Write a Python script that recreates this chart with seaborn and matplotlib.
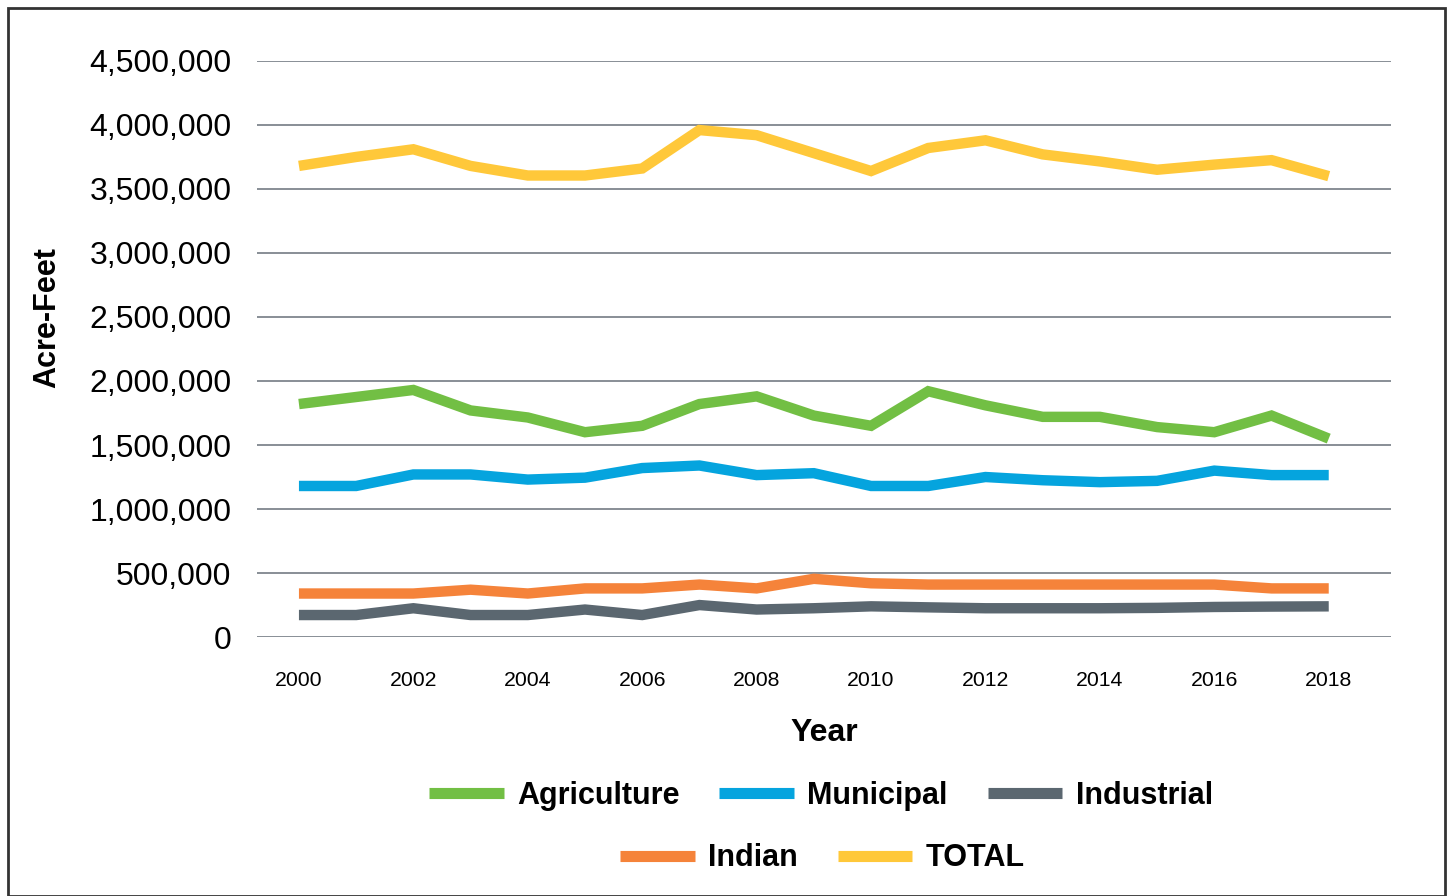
import numpy as np
import pandas as pd
import seaborn as sns
import matplotlib.pyplot as plt
from matplotlib.patches import Rectangle
from matplotlib.ticker import FuncFormatter

# Data (acre-feet)
years = list(range(2000, 2019))
agriculture = [1820000, 1875000, 1930000, 1770000, 1715000, 1600000, 1650000, 1820000, 1880000, 1730000,
               1650000, 1920000, 1810000, 1720000, 1720000, 1640000, 1600000, 1730000, 1550000]
municipal = [1180000, 1180000, 1270000, 1270000, 1230000, 1245000, 1320000, 1340000, 1265000, 1280000,
             1180000, 1180000, 1250000, 1225000, 1210000, 1220000, 1300000, 1265000, 1265000]
industrial = [172000, 172000, 225000, 172000, 172000, 215000, 172000, 250000, 215000, 225000,
              240000, 232000, 225000, 225000, 225000, 228000, 235000, 238000, 240000]
indian = [340000, 340000, 340000, 370000, 340000, 380000, 380000, 410000, 380000, 455000,
          420000, 410000, 410000, 410000, 410000, 410000, 410000, 380000, 380000]
total = [3680000, 3750000, 3810000, 3680000, 3605000, 3605000, 3660000, 3960000, 3920000, 3780000,
         3640000, 3820000, 3880000, 3770000, 3715000, 3650000, 3690000, 3725000, 3600000]

series_names = ['Agriculture', 'Municipal', 'Industrial', 'Indian', 'TOTAL']
colors = ['#72BF44', '#05A4DE', '#5B6770', '#F5833A', '#FFC83A']

df = pd.DataFrame({'Year': years, 'Agriculture': agriculture, 'Municipal': municipal,
                   'Industrial': industrial, 'Indian': indian, 'TOTAL': total})
long_df = df.melt(id_vars='Year', var_name='Use', value_name='Acre-Feet')

sns.set_style('white')
plt.rcParams['font.family'] = ['Liberation Sans', 'DejaVu Sans']
plt.rcParams['text.color'] = 'black'
plt.rcParams['axes.labelcolor'] = 'black'
plt.rcParams['xtick.color'] = 'black'
plt.rcParams['ytick.color'] = 'black'
FONT = 'Liberation Sans'

fig = plt.figure(figsize=(14.53, 8.96), dpi=100)
ax = fig.add_axes([0.177, 0.289, 0.780, 0.643])

sns.lineplot(data=long_df, x='Year', y='Acre-Feet', hue='Use', hue_order=series_names,
             palette=colors, linewidth=7.5, ax=ax, legend=False)
for ln in ax.get_lines():
    ln.set_solid_capstyle('butt')
    ln.set_solid_joinstyle('miter')

ax.set_ylim(0, 4500000)
ax.set_xlim(1999.27, 2019.08)
ax.set_yticks(np.arange(0, 4500001, 500000))
ax.set_xticks(range(2000, 2019, 2))
ax.yaxis.set_major_formatter(FuncFormatter(lambda v, p: f'{int(v):,}'))
ax.grid(axis='y', color='#7f868e', linewidth=1.3)
ax.set_axisbelow(True)
for s in ax.spines.values():
    s.set_visible(False)
ax.tick_params(axis='y', labelsize=23, pad=18.5, length=0)
ax.tick_params(axis='x', labelsize=15.3, pad=24.5, length=0)
for t in ax.get_xticklabels() + ax.get_yticklabels():
    t.set_family(FONT)

ax.set_ylabel('Acre-Feet', fontsize=22, fontweight='bold', family=FONT)
ax.yaxis.set_label_coords(-0.172, 0.554)
ax.set_xlabel('Year', fontsize=23, fontweight='bold', labelpad=20, family=FONT)

handles = [plt.Line2D([], [], color=c, linewidth=8, solid_capstyle='butt') for c in colors]
legend_font = {'size': 22, 'weight': 'bold', 'family': FONT}
fig.legend(handles[:3], series_names[:3], loc='center', bbox_to_anchor=(0.565, 0.112),
           ncol=3, frameon=False, prop=legend_font,
           handlelength=2.45, columnspacing=1.3, handletextpad=0.43)
fig.legend(handles[3:], series_names[3:], loc='center', bbox_to_anchor=(0.566, 0.042),
           ncol=2, frameon=False, prop=legend_font,
           handlelength=2.45, columnspacing=1.3, handletextpad=0.43)

fig.patches.append(Rectangle((8 / 1453, 0), 1437 / 1453, 1 - 8 / 896, transform=fig.transFigure,
                             fill=False, edgecolor='#333333', linewidth=2))

fig.savefig('out.png', dpi=100)
